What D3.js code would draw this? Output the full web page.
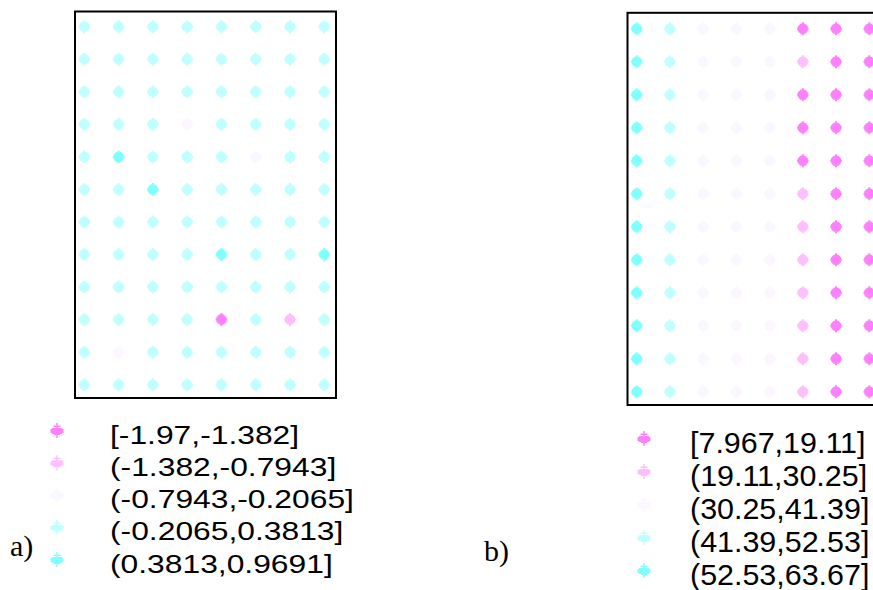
<!DOCTYPE html>
<html>
<head>
<meta charset="utf-8">
<script src="https://cdn.jsdelivr.net/npm/d3@7"></script>
<style>
  html, body { margin: 0; padding: 0; background: #fff; }
  svg { display: block; }
</style>
</head>
<body>
<svg id="chart" width="873" height="590"></svg>
<script>
// Five-class diverging palette (cyan to magenta), low class first
const classColors = ["#FF80FF", "#FFBFFF", "#FBF6FF", "#BFFFFF", "#80FFFF"];

// Panel a: class breaks, legend labels, grid values (12 rows x 8 columns, top row first)
const breaksA = [-1.97, -1.382, -0.7943, -0.2065, 0.3813, 0.9691];
const labelsA = ["[-1.97,-1.382]", "(-1.382,-0.7943]", "(-0.7943,-0.2065]", "(-0.2065,0.3813]", "(0.3813,0.9691]"];
const valuesA = [
  [0.12, 0.05, 0.18, 0.09, -0.03, 0.14, 0.22, 0.07],
  [0.03, 0.15, 0.08, 0.19, 0.11, -0.05, 0.13, 0.20],
  [0.17, 0.06, 0.21, 0.02, 0.10, 0.16, -0.01, 0.09],
  [0.08, 0.19, 0.04, -0.31, 0.14, 0.07, 0.18, 0.11],
  [0.05, 0.52, 0.13, 0.09, 0.20, -0.27, 0.06, 0.15],
  [0.14, 0.10, 0.47, 0.16, 0.03, 0.12, 0.19, 0.08],
  [0.21, 0.07, 0.11, 0.05, 0.17, 0.09, 0.02, 0.13],
  [0.09, 0.16, 0.02, 0.18, 0.9691, 0.14, 0.10, 0.44],
  [0.11, 0.04, 0.20, 0.13, 0.08, 0.22, 0.15, 0.06],
  [0.06, 0.18, 0.09, 0.01, -1.97, 0.11, -0.98, 0.17],
  [0.19, -0.42, 0.15, 0.07, 0.12, 0.04, 0.20, 0.10],
  [0.02, 0.13, 0.07, 0.22, 0.05, 0.18, 0.09, 0.14]
];

// Panel b: class breaks, legend labels, grid values
const breaksB = [7.967, 19.11, 30.25, 41.39, 52.53, 63.67];
const labelsB = ["[7.967,19.11]", "(19.11,30.25]", "(30.25,41.39]", "(41.39,52.53]", "(52.53,63.67]"];
const valuesB = [
  [58.2, 47.1, 36.4, 35.8, 34.9, 14.6, 12.3, 11.8],
  [59.0, 46.5, 35.9, 36.2, 35.1, 22.7, 12.9, 11.4],
  [60.3, 47.8, 36.8, 35.5, 34.6, 15.2, 12.1, 10.9],
  [61.1, 48.2, 37.1, 36.0, 35.3, 16.0, 11.6, 10.4],
  [62.0, 48.9, 37.5, 36.6, 35.7, 17.3, 11.2, 9.8],
  [62.6, 49.3, 37.9, 37.0, 36.2, 20.4, 10.7, 9.3],
  [63.0, 49.8, 38.3, 37.4, 36.5, 21.6, 10.2, 8.9],
  [63.2, 50.2, 38.7, 37.8, 36.9, 22.5, 9.8, 8.6],
  [63.4, 50.6, 39.1, 38.2, 37.3, 23.4, 9.4, 8.3],
  [63.5, 51.0, 39.5, 38.6, 37.7, 24.1, 9.0, 8.1],
  [63.6, 51.4, 39.9, 39.0, 38.1, 24.8, 8.6, 8.0],
  [63.67, 51.8, 40.3, 39.4, 38.5, 25.3, 8.3, 7.967]
];

const svg = d3.select("#chart");

// Dot glyph: small round body with pixel tips
const dotPath = "M-1,-6.5H1V-5H2.8V-4H4V-2.8H5V-1H5.8V1H5V2.8H4V4H2.8V5H1V6.5H-1V5H-2.8V4H-4V2.8H-5V1H-5.8V-1H-5V-2.8H-4V-4H-2.8V-5H-1Z";
// Legend glyph: stem, short top bar and a wide body
const keyPath = "M-0.7,-7H0.7V-4.5H3.5V-3H0.7V-2H5V-1H6.5V3H5V4H3V5H0.7V8H-0.7V5H-3V4H-5V3H-6.5V-1H-5V-2H-0.7V-3H-3.5V-4.5H-0.7Z";

function drawPanel(cfg) {
  const g = svg.append("g");
  const nRows = cfg.values.length, nCols = cfg.values[0].length;
  const x = d3.scalePoint().domain(d3.range(nCols)).range(cfg.xRange);
  const y = d3.scalePoint().domain(d3.range(nRows)).range(cfg.yRange);
  const color = d3.scaleThreshold().domain(cfg.breaks.slice(1, -1)).range(classColors);

  const cells = [];
  cfg.values.forEach((row, r) => row.forEach((v, c) => cells.push({ r, c, v })));

  g.append("g").selectAll("path").data(cells).join("path")
    .attr("d", dotPath)
    .attr("transform", d => `translate(${x(d.c)},${y(d.r)})`)
    .attr("fill", d => color(d.v));

  g.append("rect")
    .attr("x", cfg.box[0]).attr("y", cfg.box[1])
    .attr("width", cfg.box[2] - cfg.box[0]).attr("height", cfg.box[3] - cfg.box[1])
    .attr("fill", "none").attr("stroke", "#000").attr("stroke-width", 2);

  // Legend
  const ly = d3.scalePoint().domain(d3.range(cfg.labels.length)).range(cfg.legendY);
  const lg = g.append("g");
  lg.selectAll("path").data(cfg.labels).join("path")
    .attr("d", keyPath)
    .attr("transform", (d, i) => `translate(${cfg.keyX},${ly(i)})`)
    .attr("fill", (d, i) => classColors[i]);
  lg.selectAll("text").data(cfg.labels).join("text")
    .attr("transform", (d, i) => `translate(${cfg.textX},${ly(i) + cfg.textDy}) scale(${cfg.stretch},1)`)
    .attr("font-family", "Liberation Sans, Arial, sans-serif")
    .attr("font-size", cfg.fontSize)
    .attr("fill", "#000")
    .text(d => d);

  g.append("text")
    .attr("x", cfg.tag[0]).attr("y", cfg.tag[1])
    .attr("font-family", "Liberation Serif, Times New Roman, serif")
    .attr("font-size", 30)
    .attr("fill", "#000")
    .text(cfg.tagText);
}

drawPanel({
  values: valuesA, breaks: breaksA, labels: labelsA,
  xRange: [84.3, 324.3], yRange: [26.7, 384.7],
  box: [75, 11.5, 336, 398],
  keyX: 57, legendY: [430, 559], textX: 110, textDy: 13.5, fontSize: 26.5, stretch: 1.2,
  tag: [10, 556], tagText: "a)"
});

drawPanel({
  values: valuesB, breaks: breaksB, labels: labelsB,
  xRange: [636.7, 869.3], yRange: [28.7, 391.7],
  box: [627.5, 12.8, 881, 405],
  keyX: 644, legendY: [438, 570], textX: 690, textDy: 15, fontSize: 29, stretch: 1.05,
  tag: [484, 561], tagText: "b)"
});
</script>
</body>
</html>
